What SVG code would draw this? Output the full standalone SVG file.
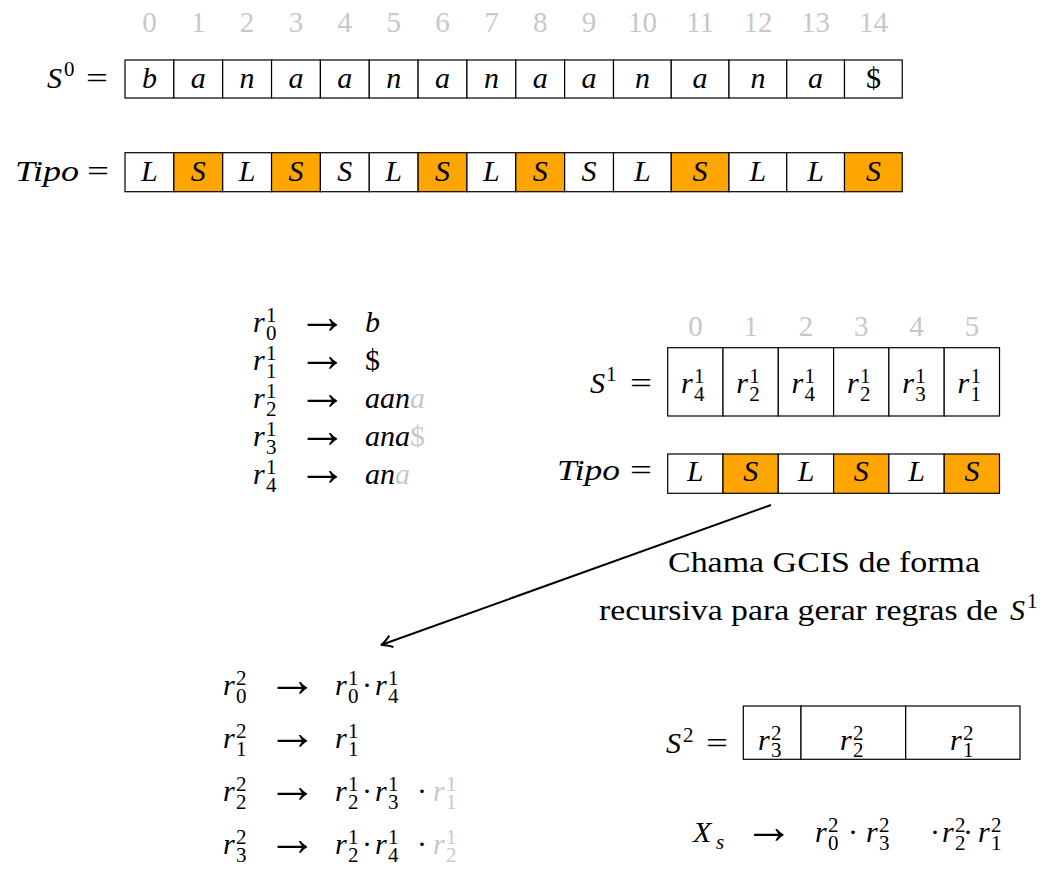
<svg xmlns="http://www.w3.org/2000/svg" width="1046" height="873" viewBox="0 0 1046 873" font-family="'Liberation Serif', 'DejaVu Serif', serif">
<style>
text{font-family:'Liberation Serif','DejaVu Serif',serif;fill:#000}
.m{font-style:italic;font-size:30px}
.u{font-size:30px}
.s{font-size:21px}
.c{text-anchor:middle}
.g{fill:#c8c8c8}
.ar{font-size:50px;text-anchor:middle}
.idx{font-size:29px;fill:#c8c8c8;text-anchor:middle}
.box{fill:#fff;stroke:#000;stroke-width:1.2}
.or{fill:#ffa500;stroke:#000;stroke-width:1.2}
.conn{stroke:#000;stroke-width:2;fill:none}
</style>
<defs>
<marker id="ah" viewBox="-12 -8 14 16" refX="0" refY="0" markerWidth="14" markerHeight="16" orient="auto" markerUnits="userSpaceOnUse">
<path d="M-11,-6 Q-4,-1 0,0 Q-4,1 -11,6" fill="none" stroke="#000" stroke-width="2"/>
</marker>
</defs>

<g id="idx0">
<text class="idx" x="149.4" y="32">0</text>
<text class="idx" x="198.3" y="32">1</text>
<text class="idx" x="247.1" y="32">2</text>
<text class="idx" x="296" y="32">3</text>
<text class="idx" x="344.8" y="32">4</text>
<text class="idx" x="393.7" y="32">5</text>
<text class="idx" x="442.5" y="32">6</text>
<text class="idx" x="491.4" y="32">7</text>
<text class="idx" x="540.2" y="32">8</text>
<text class="idx" x="589.1" y="32">9</text>
<text class="idx" x="642.4" y="32">10</text>
<text class="idx" x="700.1" y="32">11</text>
<text class="idx" x="757.9" y="32">12</text>
<text class="idx" x="815.6" y="32">13</text>
<text class="idx" x="873.4" y="32">14</text>
</g>

<g id="S0">
<text class="m" x="47" y="88">S</text>
<text class="s" x="64" y="76">0</text>
<text class="u" x="86" y="88" textLength="22" lengthAdjust="spacingAndGlyphs">=</text>
<rect class="box" x="125" y="60" width="48.85" height="38"/>
<rect class="box" x="173.85" y="60" width="48.85" height="38"/>
<rect class="box" x="222.7" y="60" width="48.85" height="38"/>
<rect class="box" x="271.55" y="60" width="48.85" height="38"/>
<rect class="box" x="320.4" y="60" width="48.85" height="38"/>
<rect class="box" x="369.25" y="60" width="48.85" height="38"/>
<rect class="box" x="418.1" y="60" width="48.85" height="38"/>
<rect class="box" x="466.95" y="60" width="48.85" height="38"/>
<rect class="box" x="515.8" y="60" width="48.85" height="38"/>
<rect class="box" x="564.65" y="60" width="48.85" height="38"/>
<rect class="box" x="613.5" y="60" width="57.75" height="38"/>
<rect class="box" x="671.25" y="60" width="57.75" height="38"/>
<rect class="box" x="729" y="60" width="57.75" height="38"/>
<rect class="box" x="786.75" y="60" width="57.75" height="38"/>
<rect class="box" x="844.5" y="60" width="57.75" height="38"/>
<text class="m c" x="149.4" y="88">b</text>
<text class="m c" x="198.3" y="88">a</text>
<text class="m c" x="247.1" y="88">n</text>
<text class="m c" x="296" y="88">a</text>
<text class="m c" x="344.8" y="88">a</text>
<text class="m c" x="393.7" y="88">n</text>
<text class="m c" x="442.5" y="88">a</text>
<text class="m c" x="491.4" y="88">n</text>
<text class="m c" x="540.2" y="88">a</text>
<text class="m c" x="589.1" y="88">a</text>
<text class="m c" x="642.4" y="88">n</text>
<text class="m c" x="700.1" y="88">a</text>
<text class="m c" x="757.9" y="88">n</text>
<text class="m c" x="815.6" y="88">a</text>
<text class="u c" x="873.4" y="88">$</text>
</g>

<g id="Tipo0">
<text class="m" x="15" y="181" textLength="64" lengthAdjust="spacingAndGlyphs">Tipo</text>
<text class="u" x="87" y="181" textLength="22" lengthAdjust="spacingAndGlyphs">=</text>
<rect class="box" x="125" y="152.7" width="48.85" height="39"/>
<rect class="or" x="173.85" y="152.7" width="48.85" height="39"/>
<rect class="box" x="222.7" y="152.7" width="48.85" height="39"/>
<rect class="or" x="271.55" y="152.7" width="48.85" height="39"/>
<rect class="box" x="320.4" y="152.7" width="48.85" height="39"/>
<rect class="box" x="369.25" y="152.7" width="48.85" height="39"/>
<rect class="or" x="418.1" y="152.7" width="48.85" height="39"/>
<rect class="box" x="466.95" y="152.7" width="48.85" height="39"/>
<rect class="or" x="515.8" y="152.7" width="48.85" height="39"/>
<rect class="box" x="564.65" y="152.7" width="48.85" height="39"/>
<rect class="box" x="613.5" y="152.7" width="57.75" height="39"/>
<rect class="or" x="671.25" y="152.7" width="57.75" height="39"/>
<rect class="box" x="729" y="152.7" width="57.75" height="39"/>
<rect class="box" x="786.75" y="152.7" width="57.75" height="39"/>
<rect class="or" x="844.5" y="152.7" width="57.75" height="39"/>
<text class="m c" x="149.4" y="181">L</text>
<text class="m c" x="198.3" y="181">S</text>
<text class="m c" x="247.1" y="181">L</text>
<text class="m c" x="296" y="181">S</text>
<text class="m c" x="344.8" y="181">S</text>
<text class="m c" x="393.7" y="181">L</text>
<text class="m c" x="442.5" y="181">S</text>
<text class="m c" x="491.4" y="181">L</text>
<text class="m c" x="540.2" y="181">S</text>
<text class="m c" x="589.1" y="181">S</text>
<text class="m c" x="642.4" y="181">L</text>
<text class="m c" x="700.1" y="181">S</text>
<text class="m c" x="757.9" y="181">L</text>
<text class="m c" x="815.6" y="181">L</text>
<text class="m c" x="873.4" y="181">S</text>
</g>

<g id="rules1">
<text class="m" x="253" y="332">r</text><text class="s" x="266" y="322">1</text><text class="s" x="266" y="340">0</text>
<text class="ar" x="322.5" y="333">→</text>
<text class="m" x="365" y="332">b</text>

<text class="m" x="253" y="370">r</text><text class="s" x="266" y="360">1</text><text class="s" x="266" y="378">1</text>
<text class="ar" x="322.5" y="371">→</text>
<text class="u" x="365" y="370">$</text>

<text class="m" x="253" y="408">r</text><text class="s" x="266" y="398">1</text><text class="s" x="266" y="416">2</text>
<text class="ar" x="322.5" y="409">→</text>
<text class="m" x="365" y="408">aan<tspan class="g">a</tspan></text>

<text class="m" x="253" y="446">r</text><text class="s" x="266" y="436">1</text><text class="s" x="266" y="454">3</text>
<text class="ar" x="322.5" y="447">→</text>
<text class="m" x="365" y="446">ana<tspan class="g" font-style="normal">$</tspan></text>

<text class="m" x="253" y="484">r</text><text class="s" x="266" y="474">1</text><text class="s" x="266" y="492">4</text>
<text class="ar" x="322.5" y="485">→</text>
<text class="m" x="365" y="484">an<tspan class="g">a</tspan></text>
</g>

<g id="idx1">
<text class="idx" x="695.4" y="336">0</text>
<text class="idx" x="750.7" y="336">1</text>
<text class="idx" x="806" y="336">2</text>
<text class="idx" x="861.3" y="336">3</text>
<text class="idx" x="916.6" y="336">4</text>
<text class="idx" x="971.9" y="336">5</text>
</g>

<g id="S1">
<text class="m" x="590" y="393">S</text>
<text class="s" x="606" y="381">1</text>
<text class="u" x="630" y="393" textLength="22" lengthAdjust="spacingAndGlyphs">=</text>
<rect class="box" x="667.7" y="347.7" width="55.3" height="68.3"/>
<rect class="box" x="723" y="347.7" width="55.3" height="68.3"/>
<rect class="box" x="778.3" y="347.7" width="55.3" height="68.3"/>
<rect class="box" x="833.6" y="347.7" width="55.3" height="68.3"/>
<rect class="box" x="888.9" y="347.7" width="55.3" height="68.3"/>
<rect class="box" x="944.2" y="347.7" width="55.3" height="68.3"/>
<text class="m" x="681" y="393">r</text><text class="s" x="694" y="383">1</text><text class="s" x="694" y="401">4</text>
<text class="m" x="736.3" y="393">r</text><text class="s" x="749.3" y="383">1</text><text class="s" x="749.3" y="401">2</text>
<text class="m" x="791.6" y="393">r</text><text class="s" x="804.6" y="383">1</text><text class="s" x="804.6" y="401">4</text>
<text class="m" x="846.9" y="393">r</text><text class="s" x="859.9" y="383">1</text><text class="s" x="859.9" y="401">2</text>
<text class="m" x="902.2" y="393">r</text><text class="s" x="915.2" y="383">1</text><text class="s" x="915.2" y="401">3</text>
<text class="m" x="957.5" y="393">r</text><text class="s" x="970.5" y="383">1</text><text class="s" x="970.5" y="401">1</text>
</g>

<g id="Tipo1">
<text class="m" x="557" y="480" textLength="63" lengthAdjust="spacingAndGlyphs">Tipo</text>
<text class="u" x="630" y="480" textLength="22" lengthAdjust="spacingAndGlyphs">=</text>
<rect class="box" x="667.7" y="454" width="55.3" height="39.3"/>
<rect class="or" x="723" y="454" width="55.3" height="39.3"/>
<rect class="box" x="778.3" y="454" width="55.3" height="39.3"/>
<rect class="or" x="833.6" y="454" width="55.3" height="39.3"/>
<rect class="box" x="888.9" y="454" width="55.3" height="39.3"/>
<rect class="or" x="944.2" y="454" width="55.3" height="39.3"/>
<text class="m c" x="695.4" y="481">L</text>
<text class="m c" x="750.7" y="481">S</text>
<text class="m c" x="806" y="481">L</text>
<text class="m c" x="861.3" y="481">S</text>
<text class="m c" x="916.6" y="481">L</text>
<text class="m c" x="971.9" y="481">S</text>
</g>

<g id="connectors">
<line class="conn" x1="771" y1="505" x2="381" y2="645" marker-end="url(#ah)"/>
</g>

<g id="label">
<text class="u" x="668" y="572" textLength="312" lengthAdjust="spacingAndGlyphs">Chama GCIS de forma</text>
<text class="u" x="599" y="620" textLength="399" lengthAdjust="spacingAndGlyphs">recursiva para gerar regras de</text>
<text class="m" x="1010" y="620">S</text>
<text class="s" x="1027" y="608">1</text>
</g>

<g id="rules2">
<text class="m" x="223" y="695">r</text><text class="s" x="236" y="685">2</text><text class="s" x="236" y="703">0</text>
<text class="ar" x="292.5" y="696">→</text>
<text class="m" x="335" y="695">r</text><text class="s" x="348" y="685">1</text><text class="s" x="348" y="703">0</text>
<text class="u c" x="367" y="695">·</text>
<text class="m" x="375" y="695">r</text><text class="s" x="388" y="685">1</text><text class="s" x="388" y="703">4</text>

<text class="m" x="223" y="748">r</text><text class="s" x="236" y="738">2</text><text class="s" x="236" y="756">1</text>
<text class="ar" x="292.5" y="749">→</text>
<text class="m" x="335" y="748">r</text><text class="s" x="348" y="738">1</text><text class="s" x="348" y="756">1</text>

<text class="m" x="223" y="801">r</text><text class="s" x="236" y="791">2</text><text class="s" x="236" y="809">2</text>
<text class="ar" x="292.5" y="802">→</text>
<text class="m" x="335" y="801">r</text><text class="s" x="348" y="791">1</text><text class="s" x="348" y="809">2</text>
<text class="u c" x="367" y="801">·</text>
<text class="m" x="375" y="801">r</text><text class="s" x="388" y="791">1</text><text class="s" x="388" y="809">3</text>
<text class="u c" x="422" y="801">·</text>
<text class="m g" x="433" y="801">r</text><text class="s g" x="446" y="791">1</text><text class="s g" x="446" y="809">1</text>

<text class="m" x="223" y="854">r</text><text class="s" x="236" y="844">2</text><text class="s" x="236" y="862">3</text>
<text class="ar" x="292.5" y="855">→</text>
<text class="m" x="335" y="854">r</text><text class="s" x="348" y="844">1</text><text class="s" x="348" y="862">2</text>
<text class="u c" x="367" y="854">·</text>
<text class="m" x="375" y="854">r</text><text class="s" x="388" y="844">1</text><text class="s" x="388" y="862">4</text>
<text class="u c" x="422" y="854">·</text>
<text class="m g" x="433" y="854">r</text><text class="s g" x="446" y="844">1</text><text class="s g" x="446" y="862">2</text>
</g>

<g id="S2">
<text class="m" x="666" y="753">S</text>
<text class="s" x="683" y="742">2</text>
<text class="u" x="706" y="753" textLength="22" lengthAdjust="spacingAndGlyphs">=</text>
<rect class="box" x="743.3" y="706" width="57.7" height="53.3"/>
<rect class="box" x="801" y="706" width="104.7" height="53.3"/>
<rect class="box" x="905.7" y="706" width="114.3" height="53.3"/>
<text class="m" x="758" y="750">r</text><text class="s" x="771" y="740">2</text><text class="s" x="771" y="757">3</text>
<text class="m" x="840" y="750">r</text><text class="s" x="853" y="740">2</text><text class="s" x="853" y="757">2</text>
<text class="m" x="950" y="750">r</text><text class="s" x="963" y="740">2</text><text class="s" x="963" y="757">1</text>
</g>

<g id="Xs">
<text class="m" x="693" y="842">X</text>
<text class="m" x="716" y="849" style="font-size:21px">s</text>
<text class="ar" x="769" y="843">→</text>
<text class="m" x="815" y="842">r</text><text class="s" x="828" y="832">2</text><text class="s" x="828" y="850">0</text>
<text class="u c" x="853" y="842">·</text>
<text class="m" x="866" y="842">r</text><text class="s" x="879" y="832">2</text><text class="s" x="879" y="850">3</text>
<text class="u c" x="935" y="842">·</text>
<text class="m" x="942" y="842">r</text><text class="s" x="955" y="832">2</text><text class="s" x="955" y="850">2</text>
<text class="u c" x="968" y="842">·</text>
<text class="m" x="978" y="842">r</text><text class="s" x="991" y="832">2</text><text class="s" x="991" y="850">1</text>
</g>
</svg>
